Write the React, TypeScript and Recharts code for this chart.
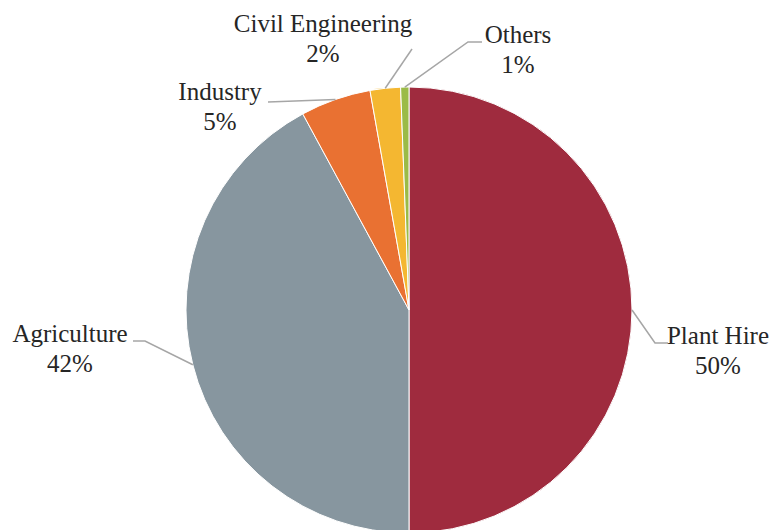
import { PieChart, Pie, Cell } from "recharts";

const sectors = ["Plant Hire", "Agriculture", "Industry", "Civil Engineering", "Others"];
const shares = [50, 42.1, 5.1, 2.2, 0.6];
const colors = ["#9f2b3e", "#87969f", "#e97132", "#f4b731", "#9bbb47"];

const data = sectors.map((name, i) => ({ name, value: shares[i] }));

// label layout relative to pie centre: leader-line bends and text anchor (baseline of first line)
const labelLayout = [
  { pts: [[246, 33], [259, 33]], text: [309, 34] },
  { pts: [[-264, 31], [-276, 31]], text: [-339, 32] },
  { pts: [[-141, -208]], text: [-189, -210] },
  { pts: [[3, -261]], text: [-86, -278] },
  { pts: [[59, -268], [73, -268]], text: [109, -267] },
];

const RAD = Math.PI / 180;

function SliceLabel(props: any) {
  const { cx, cy, midAngle, outerRadius, index, percent, name } = props;
  const layout = labelLayout[index];
  const sx = cx + outerRadius * Math.cos(-midAngle * RAD);
  const sy = cy + outerRadius * Math.sin(-midAngle * RAD);
  const pts = [[sx, sy], ...layout.pts.map(([x, y]) => [cx + x, cy + y])];
  const tx = cx + layout.text[0];
  const ty = cy + layout.text[1];
  return (
    <g>
      <polyline
        points={pts.map((p) => p.join(",")).join(" ")}
        fill="none"
        stroke="#a6a6a6"
        strokeWidth={1.5}
      />
      <text
        x={tx}
        y={ty}
        textAnchor="middle"
        fill="#262626"
        fontSize={25}
        fontFamily="Liberation Serif, serif"
      >
        <tspan x={tx}>{name}</tspan>
        <tspan x={tx} dy={30}>{`${Math.round(percent * 100)}%`}</tspan>
      </text>
    </g>
  );
}

export default function App() {
  return (
    <div style={{ position: "absolute", left: 0, top: 0, background: "#fff" }}>
      <PieChart width={776} height={530} margin={{ top: 0, right: 0, bottom: 0, left: 0 }}>
        <Pie
          data={data}
          dataKey="value"
          nameKey="name"
          cx={409}
          cy={310}
          outerRadius={223}
          startAngle={90}
          endAngle={-270}
          stroke="#fff"
          strokeWidth={1}
          label={SliceLabel}
          labelLine={false}
          isAnimationActive={false}
        >
          {data.map((d, i) => (
            <Cell key={d.name} fill={colors[i]} />
          ))}
        </Pie>
      </PieChart>
    </div>
  );
}
